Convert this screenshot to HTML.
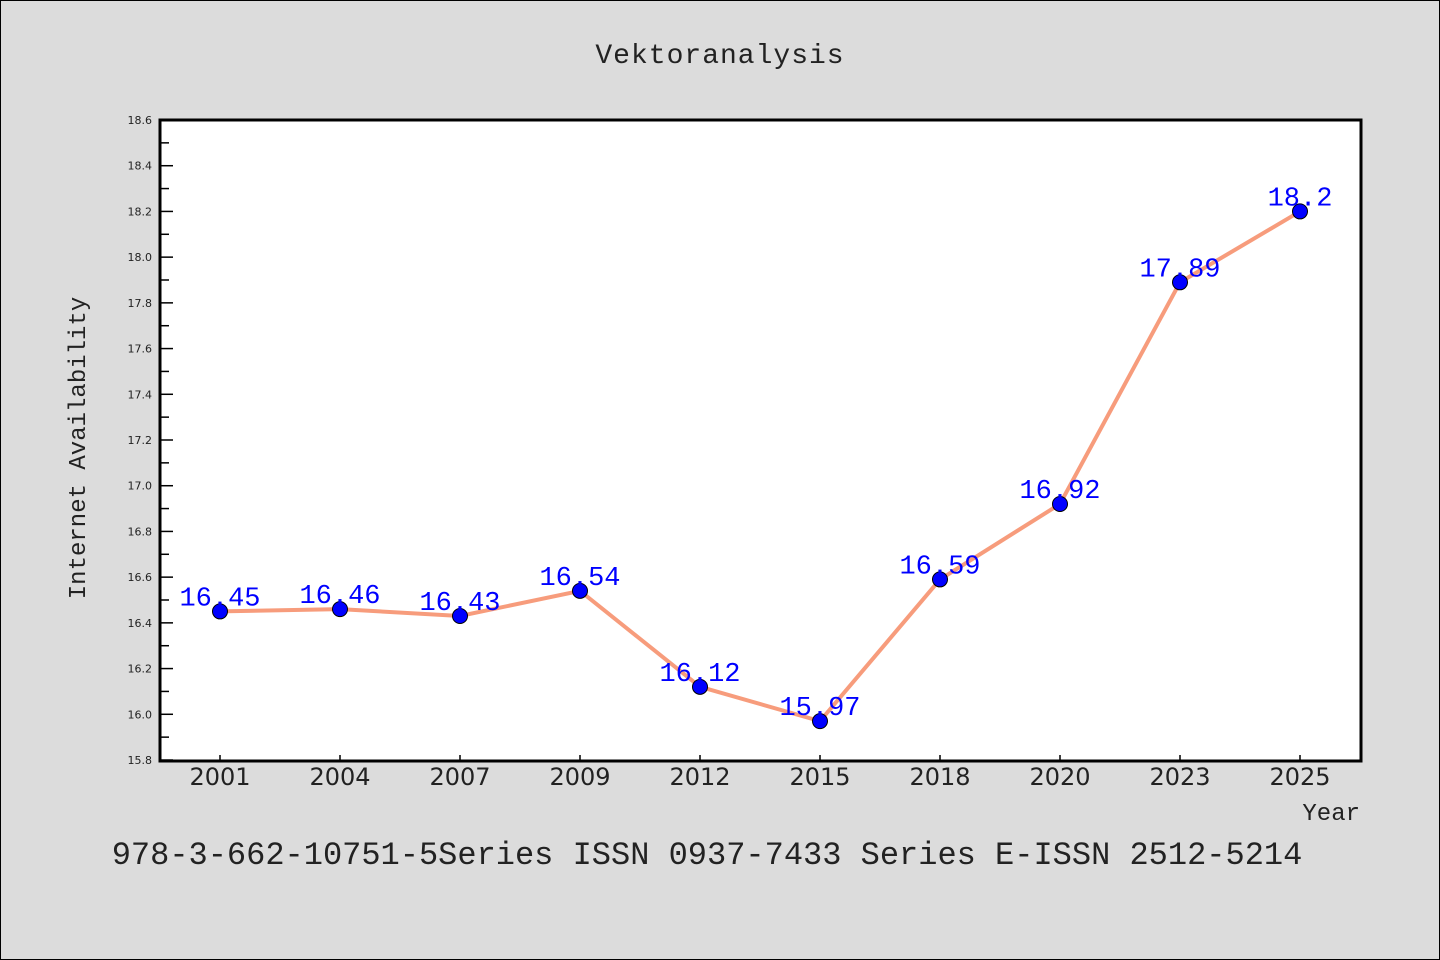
<!DOCTYPE html>
<html><head><meta charset="utf-8"><style>
body{margin:0;background:#dcdcdc;}
svg{display:block;font-family:"DejaVu Sans","Liberation Sans",sans-serif;}
.mono{font-family:"WenQuanYi Zen Hei Mono","Liberation Mono",monospace;}
</style></head><body>
<svg id="chart" width="1440" height="960">
<rect x="0.5" y="0.5" width="1439" height="959" fill="#dcdcdc" stroke="#000"/>
<text class="mono" x="720" y="63" text-anchor="middle" font-size="28" letter-spacing="1" fill="#222">Vektoranalysis</text>
<rect x="160" y="120" width="1201" height="641" fill="#fff"/>
<g id="yaxis"></g>
<g id="xaxis"></g>
<g id="series"></g>
<rect x="160" y="120" width="1201" height="641" fill="none" stroke="#000" stroke-width="3"/>
<text class="mono" transform="translate(85,448) rotate(-90)" text-anchor="middle" font-size="24" fill="#222">Internet Availability</text>
<text class="mono" x="1360" y="820" text-anchor="end" font-size="24" fill="#222">Year</text>
<text class="mono" x="707" y="864" text-anchor="middle" font-size="32" fill="#222">978-3-662-10751-5Series ISSN 0937-7433 Series E-ISSN 2512-5214</text>
</svg>
<script>
const categories=["2001","2004","2007","2009","2012","2015","2018","2020","2023","2025"];
const values=[16.45,16.46,16.43,16.54,16.12,15.97,16.59,16.92,17.89,18.2];
const yTicks=[15.8,16.0,16.2,16.4,16.6,16.8,17.0,17.2,17.4,17.6,17.8,18.0,18.2,18.4,18.6];
const NS="http://www.w3.org/2000/svg";
const yMin=15.8,yMax=18.6,plotTop=120,plotBot=760;
function yS(v){return plotBot-(v-yMin)/(yMax-yMin)*(plotBot-plotTop);}
function xS(i){return 220+i*120;}
function mk(t,a,p){const e=document.createElementNS(NS,t);for(const k in a)e.setAttribute(k,a[k]);p.appendChild(e);return e;}
const ya=document.getElementById('yaxis');
yTicks.forEach((v,i)=>{
  const y=yS(v);
  const l=mk('line',{x1:160,x2:173,y1:y,y2:y,stroke:'#000','stroke-width':1.5},ya);
  
  
  const t=mk('text',{x:152,y:y+4,'text-anchor':'end','font-size':11,fill:'#222'},ya);
  t.textContent=v.toFixed(1);
  
  
  if(i<yTicks.length-1){
    const ym=yS(v+0.1);
    const m=mk('line',{x1:160,x2:169,y1:ym,y2:ym,stroke:'#000','stroke-width':1.5},ya);
    
    
  }
});
const xa=document.getElementById('xaxis');
categories.forEach((c,i)=>{
  const x=xS(i);
  const l=mk('line',{x1:x,x2:x,y1:761,y2:755,stroke:'#000','stroke-width':1.5},xa);
  
  
  const t=mk('text',{x:x,y:785,'text-anchor':'middle','font-size':24,fill:'#222'},xa);
  t.textContent=c;
  
  
});
const s=document.getElementById('series');
const pl=mk('polyline',{points:values.map((v,i)=>xS(i)+','+yS(v)).join(' '),fill:'none',stroke:'#f79c7c','stroke-width':4},s);


values.forEach((v,i)=>{
  const c=mk('circle',{cx:xS(i),cy:yS(v),r:7.5,fill:'#0000ff',stroke:'#000','stroke-width':1},s);
  
  
});
values.forEach((v,i)=>{
  const t=mk('text',{x:xS(i),y:yS(v)-6,'text-anchor':'middle','font-size':27,fill:'#0000ff','class':'mono'},s);
  t.textContent=String(v);
  
  
});
</script>
</body></html>
